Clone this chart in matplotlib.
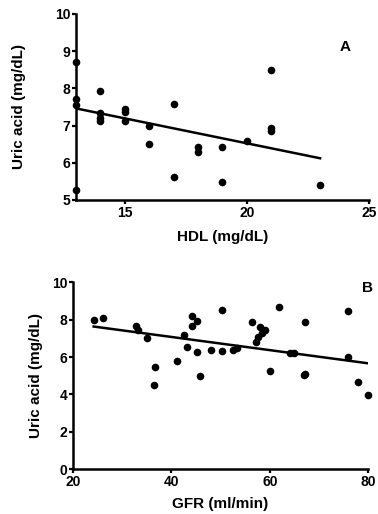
import numpy as np
import matplotlib.pyplot as plt

# ---- DATA ---- #
hdl = [13, 13, 13, 13, 14, 14, 14, 14, 15, 15, 15, 16, 16, 17, 17,
       18, 18, 19, 19, 20, 21, 21, 21, 23]
ua_a = [8.70, 7.71, 7.55, 5.28, 7.94, 7.33, 7.20, 7.11, 7.45, 7.37, 7.13,
        7.00, 6.50, 7.58, 5.63, 6.43, 6.28, 6.42, 5.48, 6.58, 8.49, 6.94,
        6.86, 5.40]
fit_a_x = [13, 23]
fit_a_y = [7.46, 6.12]

gfr = [24.2, 26.2, 32.9, 33.3, 35.0, 36.7, 36.5, 41.2, 42.6, 43.2, 44.2,
       44.2, 45.3, 45.2, 45.9, 48.1, 50.3, 50.3, 52.5, 53.3, 56.4, 58.1,
       59.1, 58.4, 57.7, 57.3, 60.1, 61.8, 64.2, 64.9, 67.2, 67.0, 67.1,
       76.0, 76.0, 78.0, 80.0]
ua_b = [7.97, 8.10, 7.67, 7.44, 7.00, 5.48, 4.52, 5.80, 7.17, 6.55, 8.18,
        7.65, 7.94, 6.25, 4.98, 6.40, 8.50, 6.30, 6.37, 6.49, 7.88, 7.58,
        7.47, 7.30, 7.08, 6.81, 5.27, 8.65, 6.23, 6.23, 7.85, 5.03, 5.10,
        8.47, 6.01, 4.64, 3.97]
fit_b_x = [24.2, 80.1]
fit_b_y = [7.63, 5.66]

ylbl = 'Uric acid (mg/dL)'

plt.rcParams['font.family'] = ['Liberation Sans', 'DejaVu Sans']
plt.rcParams['font.weight'] = 'bold'

fig = plt.figure(figsize=(3.78, 5.14), dpi=100)
ax1 = fig.add_axes([0.201, 0.611, 0.775, 0.362])
ax2 = fig.add_axes([0.193, 0.087, 0.781, 0.364])


def style(ax):
    for s in ['top', 'right']:
        ax.spines[s].set_visible(False)
    for s in ['left', 'bottom']:
        ax.spines[s].set_linewidth(1.8)
    ax.tick_params(direction='out', length=3, width=1.6, labelsize=10, pad=1)
    for lb in ax.get_xticklabels() + ax.get_yticklabels():
        lb.set_fontweight('bold')


# ---- PANEL A ---- #
ax1.scatter(hdl, ua_a, s=20, color='k', zorder=3, clip_on=False)
ax1.plot(fit_a_x, fit_a_y, color='k', lw=1.8)
ax1.set_xlim(13, 25)
ax1.set_ylim(5, 10)
ax1.set_xticks([15, 20, 25])
ax1.set_yticks([5, 6, 7, 8, 9, 10])
style(ax1)
ax1.set_xlabel('HDL (mg/dL)', fontsize=11, fontweight='bold')
ax1.set_ylabel(ylbl, fontsize=11, fontweight='bold')
ax1.xaxis.set_label_coords(0.5, -0.161)
ax1.yaxis.set_label_coords(-0.171, 0.5)
ax1.text(0.92, 0.82, 'A', transform=ax1.transAxes, fontsize=11,
         fontweight='bold', ha='center', va='center')

# ---- PANEL B ---- #
ax2.scatter(gfr, ua_b, s=20, color='k', zorder=3, clip_on=False)
ax2.plot(fit_b_x, fit_b_y, color='k', lw=1.8)
ax2.set_xlim(20, 80)
ax2.set_ylim(0, 10)
ax2.set_xticks([20, 40, 60, 80])
ax2.set_yticks([0, 2, 4, 6, 8, 10])
style(ax2)
ax2.set_xlabel('GFR (ml/min)', fontsize=11, fontweight='bold')
ax2.set_ylabel(ylbl, fontsize=11, fontweight='bold')
ax2.xaxis.set_label_coords(0.5, -0.15)
ax2.yaxis.set_label_coords(-0.102, 0.5)
ax2.text(0.997, 0.97, 'B', transform=ax2.transAxes, fontsize=11,
         fontweight='bold', ha='center', va='center')

plt.savefig('out.png', dpi=100)
